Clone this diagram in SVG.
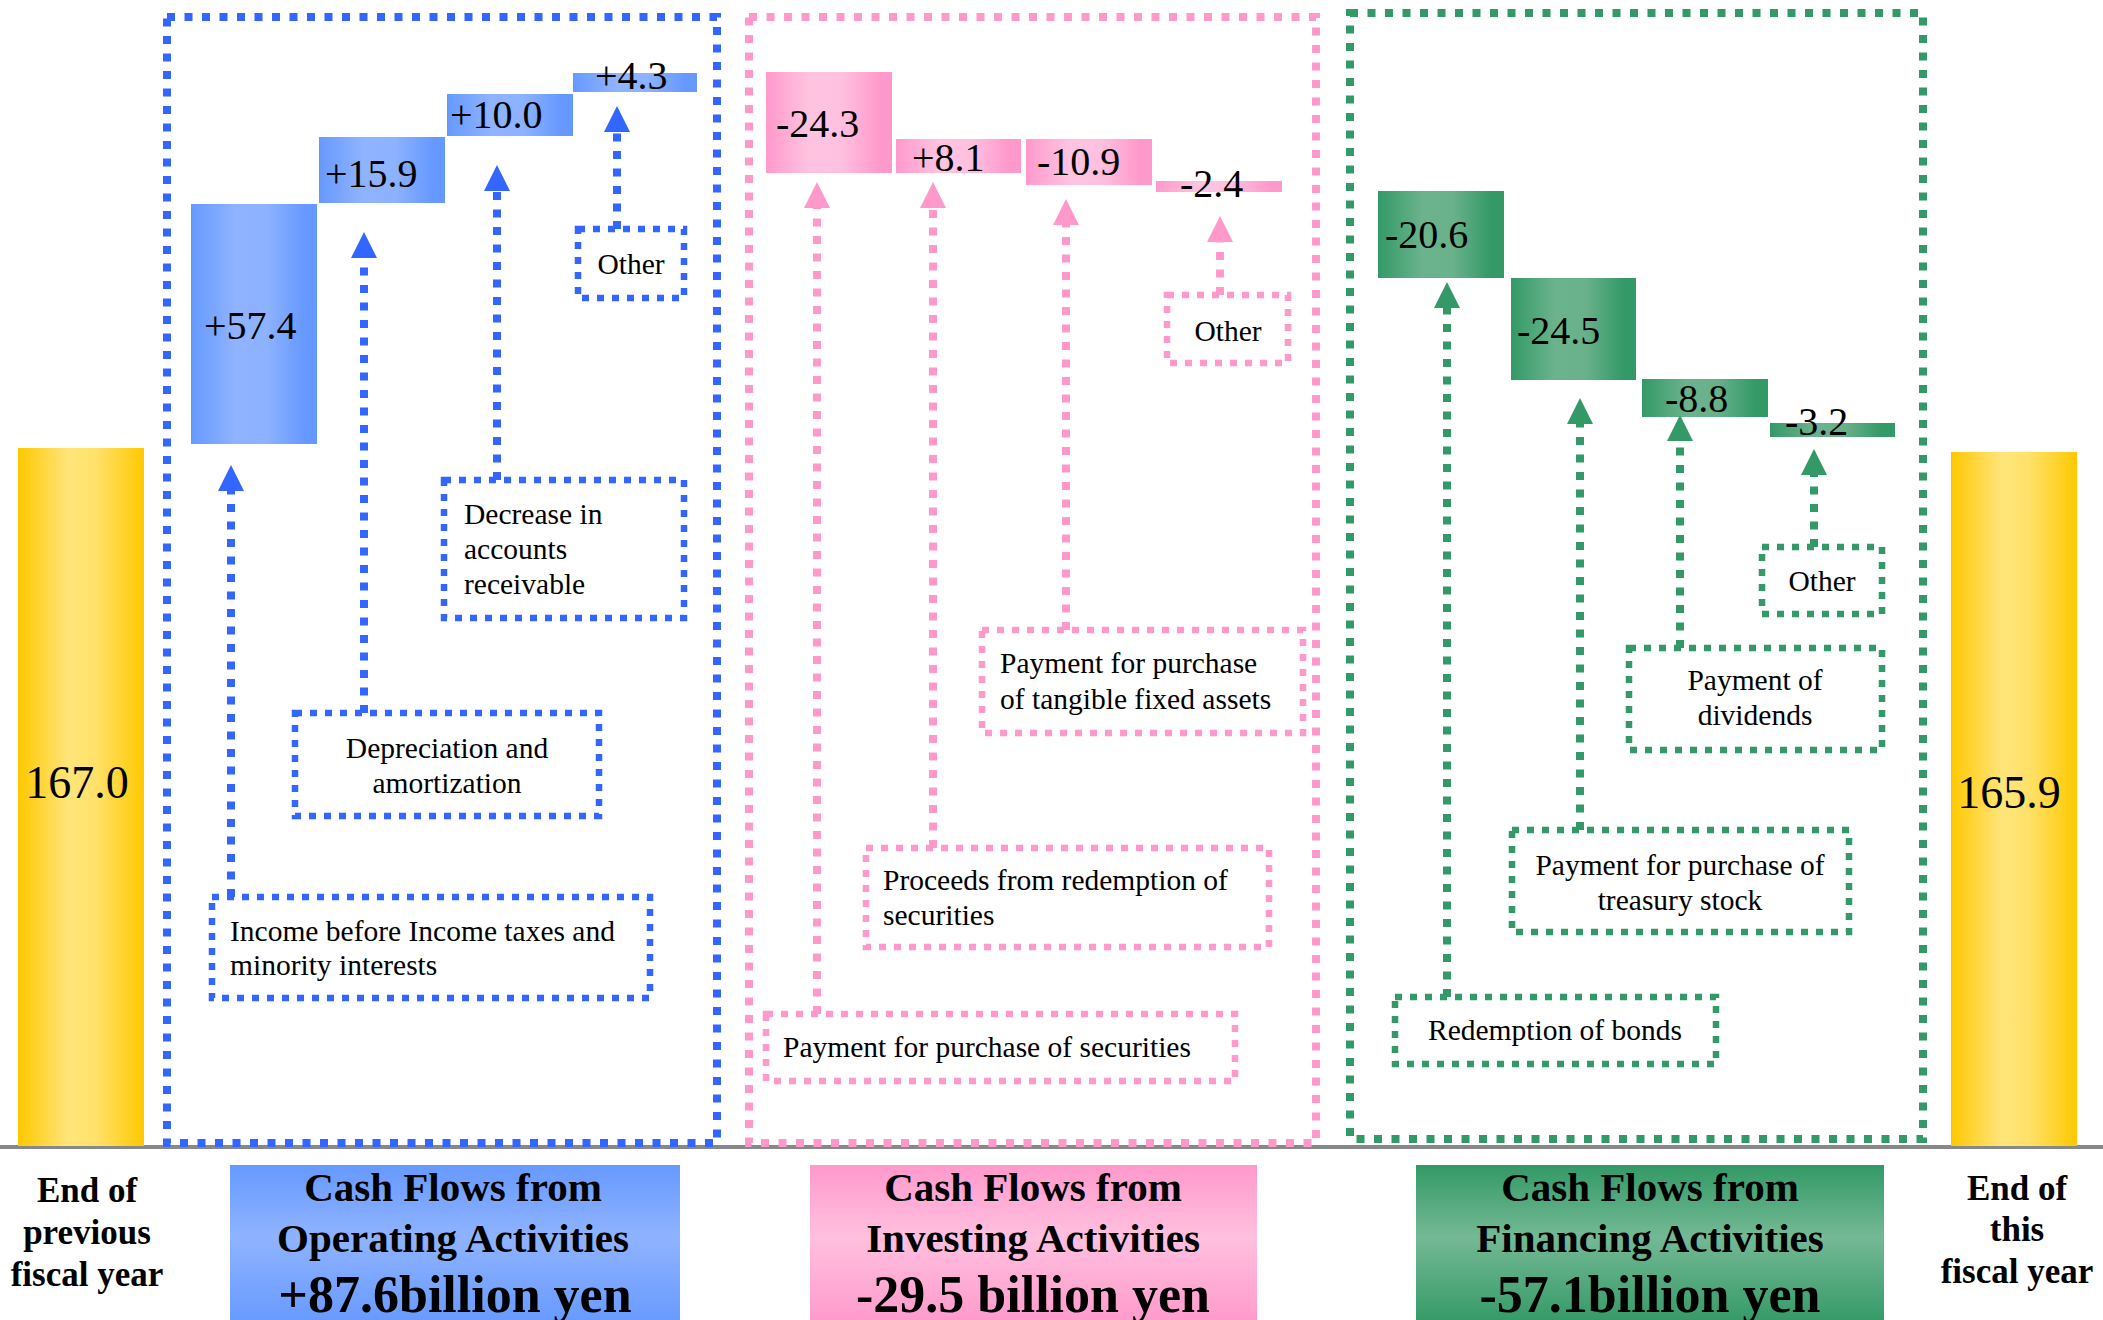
<svg xmlns="http://www.w3.org/2000/svg" width="2103" height="1320" viewBox="0 0 2103 1320">
<defs>
<linearGradient id="gYel" x1="0" y1="0" x2="1" y2="0">
<stop offset="0" stop-color="#FFC800"/><stop offset="0.4" stop-color="#FFE57A"/><stop offset="0.62" stop-color="#FFE16A"/><stop offset="1" stop-color="#FFC800"/>
</linearGradient>
<linearGradient id="gBlue" x1="0" y1="0" x2="1" y2="0">
<stop offset="0" stop-color="#6699FF"/><stop offset="0.35" stop-color="#8FB3FF"/><stop offset="0.6" stop-color="#8DB2FF"/><stop offset="0.9" stop-color="#6699FF"/>
</linearGradient>
<linearGradient id="gPink" x1="0" y1="0" x2="1" y2="0">
<stop offset="0" stop-color="#FF99CC"/><stop offset="0.35" stop-color="#FFC4E1"/><stop offset="0.6" stop-color="#FFC0DF"/><stop offset="0.9" stop-color="#FF99CC"/>
</linearGradient>
<linearGradient id="gGreen" x1="0" y1="0" x2="1" y2="0">
<stop offset="0" stop-color="#339966"/><stop offset="0.35" stop-color="#6BB38D"/><stop offset="0.6" stop-color="#68B18B"/><stop offset="0.9" stop-color="#339966"/>
</linearGradient>
<linearGradient id="vBlue" x1="0" y1="0" x2="0" y2="1">
<stop offset="0" stop-color="#6699FF"/><stop offset="0.45" stop-color="#8FB3FF"/><stop offset="1" stop-color="#6699FF"/>
</linearGradient>
<linearGradient id="vPink" x1="0" y1="0" x2="0" y2="1">
<stop offset="0" stop-color="#FF99CC"/><stop offset="0.45" stop-color="#FFC0DF"/><stop offset="1" stop-color="#FF99CC"/>
</linearGradient>
<linearGradient id="vGreen" x1="0" y1="0" x2="0" y2="1">
<stop offset="0" stop-color="#339966"/><stop offset="0.45" stop-color="#74B995"/><stop offset="1" stop-color="#339966"/>
</linearGradient>
<marker id="mBlue" viewBox="0 0 26 26" refX="0" refY="13" markerWidth="26" markerHeight="26" markerUnits="userSpaceOnUse" orient="auto"><path d="M0,0 L26,13 L0,26 z" fill="#3366FF"/></marker>
<marker id="mPink" viewBox="0 0 26 26" refX="0" refY="13" markerWidth="26" markerHeight="26" markerUnits="userSpaceOnUse" orient="auto"><path d="M0,0 L26,13 L0,26 z" fill="#FF99CC"/></marker>
<marker id="mGreen" viewBox="0 0 26 26" refX="0" refY="13" markerWidth="26" markerHeight="26" markerUnits="userSpaceOnUse" orient="auto"><path d="M0,0 L26,13 L0,26 z" fill="#339966"/></marker>
</defs>
<style>
text{font-family:"Liberation Serif","Times New Roman",serif;fill:#000}
.frame{fill:none;stroke-width:8;stroke-dasharray:8 9.5}
.tbox{fill:#fff;stroke-width:6.5;stroke-dasharray:7 8}
.conn{fill:none;stroke-width:8;stroke-dasharray:8 9.5}
.sb{stroke:#3366FF}.sp{stroke:#FF99CC}.sg{stroke:#339966}
.val{font-size:40px}
.lbl{font-size:29.5px}
.mid{text-anchor:middle}
.head{font-size:41px;font-weight:bold;text-anchor:middle}
.amt{font-size:52px}
.end{font-size:35px;font-weight:bold;text-anchor:middle}
</style>
<rect width="2103" height="1320" fill="#fff"/>

<g id="baseline"><line x1="0" y1="1147" x2="2103" y2="1147" stroke="#888" stroke-width="4"/></g>

<g id="frame-operating"><rect class="frame sb" x="167" y="17" width="550" height="1126"/></g>
<g id="frame-investing"><rect class="frame sp" x="749" y="17" width="567" height="1126"/></g>
<g id="frame-financing"><rect class="frame sg" x="1350" y="13" width="573" height="1126"/></g>

<g id="start-balance"><rect x="18" y="448" width="126" height="698" fill="url(#gYel)"/><text class="val mid" x="77" y="798" style="font-size:46px">167.0</text></g>
<g id="end-balance"><rect x="1951" y="452" width="126" height="694" fill="url(#gYel)"/><text class="val mid" x="2009" y="808" style="font-size:46px">165.9</text></g>

<g id="bar-op-1"><rect x="191" y="204" width="126" height="240" fill="url(#gBlue)"/><text class="val" x="204" y="339">+57.4</text></g>
<g id="bar-op-2"><rect x="319" y="137" width="126" height="66" fill="url(#gBlue)"/><text class="val" x="325" y="187">+15.9</text></g>
<g id="bar-op-3"><rect x="447" y="94" width="126" height="42" fill="url(#gBlue)"/><text class="val" x="450" y="128">+10.0</text></g>
<g id="bar-op-4"><rect x="573" y="73" width="124" height="19" fill="url(#gBlue)"/><text class="val" x="595" y="89">+4.3</text></g>

<g id="bar-inv-1"><rect x="766" y="72" width="126" height="101" fill="url(#gPink)"/><text class="val" x="776" y="137">-24.3</text></g>
<g id="bar-inv-2"><rect x="896" y="139" width="125" height="34" fill="url(#gPink)"/><text class="val" x="912" y="171">+8.1</text></g>
<g id="bar-inv-3"><rect x="1026" y="139" width="126" height="46" fill="url(#gPink)"/><text class="val" x="1037" y="175">-10.9</text></g>
<g id="bar-inv-4"><rect x="1156" y="181" width="126" height="11" fill="url(#gPink)"/><text class="val" x="1180" y="197">-2.4</text></g>

<g id="bar-fin-1"><rect x="1378" y="191" width="126" height="87" fill="url(#gGreen)"/><text class="val" x="1385" y="248">-20.6</text></g>
<g id="bar-fin-2"><rect x="1511" y="278" width="125" height="102" fill="url(#gGreen)"/><text class="val" x="1517" y="344">-24.5</text></g>
<g id="bar-fin-3"><rect x="1642" y="379" width="126" height="38" fill="url(#gGreen)"/><text class="val" x="1665" y="412">-8.8</text></g>
<g id="bar-fin-4"><rect x="1770" y="423" width="125" height="14" fill="url(#gGreen)"/><text class="val" x="1785" y="435">-3.2</text></g>

<g id="connectors">
<line class="conn sb" x1="231" y1="897" x2="231" y2="491" marker-end="url(#mBlue)"/>
<line class="conn sb" x1="364" y1="713" x2="364" y2="258" marker-end="url(#mBlue)"/>
<line class="conn sb" x1="497" y1="480" x2="497" y2="191" marker-end="url(#mBlue)"/>
<line class="conn sb" x1="617" y1="229" x2="617" y2="132" marker-end="url(#mBlue)"/>
<line class="conn sp" x1="817" y1="1014" x2="817" y2="208" marker-end="url(#mPink)"/>
<line class="conn sp" x1="933" y1="848" x2="933" y2="208" marker-end="url(#mPink)"/>
<line class="conn sp" x1="1066" y1="630" x2="1066" y2="225" marker-end="url(#mPink)"/>
<line class="conn sp" x1="1220" y1="295" x2="1220" y2="242" marker-end="url(#mPink)"/>
<line class="conn sg" x1="1447" y1="997" x2="1447" y2="308" marker-end="url(#mGreen)"/>
<line class="conn sg" x1="1580" y1="830" x2="1580" y2="424" marker-end="url(#mGreen)"/>
<line class="conn sg" x1="1680" y1="648" x2="1680" y2="441" marker-end="url(#mGreen)"/>
<line class="conn sg" x1="1814" y1="547" x2="1814" y2="475" marker-end="url(#mGreen)"/>
</g>

<g id="box-op-other"><rect class="tbox sb" x="578" y="229" width="106" height="69"/><text class="lbl mid" x="631" y="274">Other</text></g>
<g id="box-op-receivable"><rect class="tbox sb" x="444" y="480" width="240" height="138"/><text class="lbl" x="464" y="524">Decrease in</text><text class="lbl" x="464" y="559">accounts</text><text class="lbl" x="464" y="594">receivable</text></g>
<g id="box-op-depreciation"><rect class="tbox sb" x="295" y="713" width="304" height="103"/><text class="lbl mid" x="447" y="758">Depreciation and</text><text class="lbl mid" x="447" y="793">amortization</text></g>
<g id="box-op-income"><rect class="tbox sb" x="212" y="897" width="438" height="101"/><text class="lbl" x="230" y="941">Income before Income taxes and</text><text class="lbl" x="230" y="975">minority interests</text></g>

<g id="box-inv-other"><rect class="tbox sp" x="1167" y="295" width="121" height="68"/><text class="lbl mid" x="1228" y="341">Other</text></g>
<g id="box-inv-tangible"><rect class="tbox sp" x="982" y="630" width="321" height="103"/><text class="lbl" x="1000" y="673">Payment for purchase</text><text class="lbl" x="1000" y="709">of tangible fixed assets</text></g>
<g id="box-inv-proceeds"><rect class="tbox sp" x="866" y="848" width="403" height="99"/><text class="lbl" x="883" y="890">Proceeds from redemption of</text><text class="lbl" x="883" y="925">securities</text></g>
<g id="box-inv-securities"><rect class="tbox sp" x="766" y="1014" width="469" height="67"/><text class="lbl" x="783" y="1057">Payment for purchase of securities</text></g>

<g id="box-fin-other"><rect class="tbox sg" x="1762" y="547" width="120" height="67"/><text class="lbl mid" x="1822" y="591">Other</text></g>
<g id="box-fin-dividends"><rect class="tbox sg" x="1629" y="648" width="253" height="102"/><text class="lbl mid" x="1755" y="690">Payment of</text><text class="lbl mid" x="1755" y="725">dividends</text></g>
<g id="box-fin-treasury"><rect class="tbox sg" x="1512" y="830" width="337" height="102"/><text class="lbl mid" x="1680" y="875">Payment for purchase of</text><text class="lbl mid" x="1680" y="910">treasury stock</text></g>
<g id="box-fin-bonds"><rect class="tbox sg" x="1395" y="997" width="321" height="67"/><text class="lbl mid" x="1555" y="1040">Redemption of bonds</text></g>

<g id="label-start"><text class="end" x="87" y="1202">End of</text><text class="end" x="87" y="1244">previous</text><text class="end" x="87" y="1286">fiscal year</text></g>
<g id="label-operating"><rect x="230" y="1165" width="450" height="160" fill="url(#vBlue)"/><text class="head" x="453" y="1201">Cash Flows from</text><text class="head" x="453" y="1252">Operating Activities</text><text class="head amt" x="455" y="1312">+87.6billion yen</text></g>
<g id="label-investing"><rect x="810" y="1165" width="447" height="160" fill="url(#vPink)"/><text class="head" x="1033" y="1201">Cash Flows from</text><text class="head" x="1033" y="1252">Investing Activities</text><text class="head amt" x="1033" y="1312">-29.5 billion yen</text></g>
<g id="label-financing"><rect x="1416" y="1165" width="468" height="160" fill="url(#vGreen)"/><text class="head" x="1650" y="1201">Cash Flows from</text><text class="head" x="1650" y="1252">Financing Activities</text><text class="head amt" x="1650" y="1312">-57.1billion yen</text></g>
<g id="label-end"><text class="end" x="2017" y="1200">End of</text><text class="end" x="2017" y="1241">this</text><text class="end" x="2017" y="1283">fiscal year</text></g>
</svg>
